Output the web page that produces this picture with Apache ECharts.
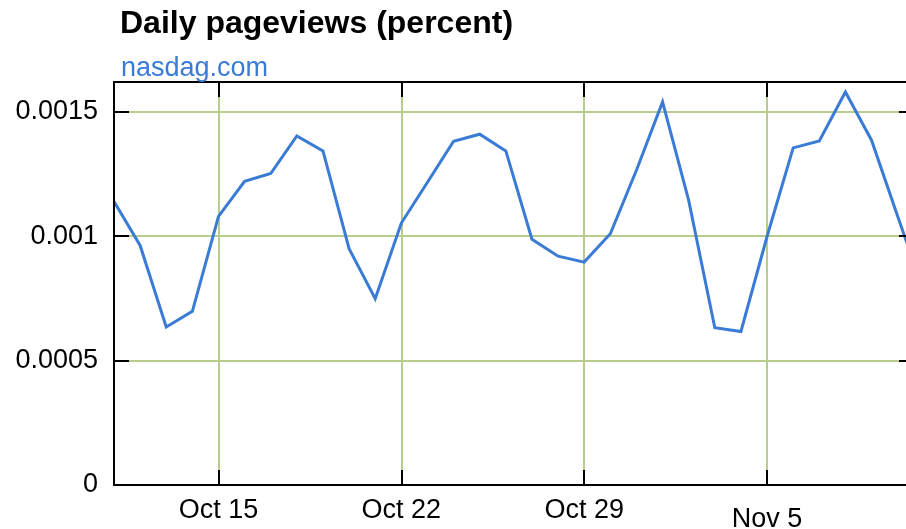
<!DOCTYPE html>
<html>
<head>
<meta charset="utf-8">
<script src="https://cdn.jsdelivr.net/npm/echarts@6/dist/echarts.min.js"></script>
<style>html,body{margin:0;padding:0;background:#fff}#c{width:906px;height:529px}</style>
</head>
<body>
<div id="c"></div>
<script>
const dates = ['2007-10-11','2007-10-12','2007-10-13','2007-10-14','2007-10-15','2007-10-16','2007-10-17','2007-10-18','2007-10-19','2007-10-20','2007-10-21','2007-10-22','2007-10-23','2007-10-24','2007-10-25','2007-10-26','2007-10-27','2007-10-28','2007-10-29','2007-10-30','2007-10-31','2007-11-01','2007-11-02','2007-11-03','2007-11-04','2007-11-05','2007-11-06','2007-11-07','2007-11-08','2007-11-09','2007-11-10','2007-11-11'];
const pageviews = [0.00114,0.000963,0.000635,0.000698,0.00108,0.001221,0.001252,0.001403,0.001343,0.00095,0.000749,0.001053,0.001217,0.001382,0.00141,0.001343,0.000988,0.00092,0.000896,0.00101,0.001265,0.00154,0.001144,0.000632,0.000617,0.000999,0.001355,0.001383,0.00158,0.001386,0.00108,0.00078];
const xTickDates = ['2007-10-15','2007-10-22','2007-10-29','2007-11-05'];
const xTickLabels = ['Oct 15','Oct 22','Oct 29','Nov 5'];
const yTicks = [0, 0.0005, 0.001, 0.0015];
const yTickLabels = ['0','0.0005','0.001','0.0015'];

const ts = s => Date.parse(s);
const xTicks = xTickDates.map(ts);
const xMin = ts('2007-10-11T00:00:00Z');
const xMax = ts('2007-11-10T07:40:00Z');
const seriesData = dates.map((d, i) => [ts(d), pageviews[i]]);

const FONT = 'Liberation Sans';
const BLACK = '#000';
const GRID = '#b8cc8c';
const BLUE = '#3a7bd5';

const chart = echarts.init(document.getElementById('c'), null, {renderer: 'canvas'});

function xAxisBase(extra) {
  return Object.assign({
    type: 'value', min: xMin, max: xMax, gridIndex: 0,
    axisLine: {show: true, onZero: false, lineStyle: {color: BLACK, width: 2}},
    axisTick: {show: true, inside: true, length: 15, customValues: xTicks, lineStyle: {color: BLACK, width: 2}},
    axisLabel: {show: false, customValues: xTicks},
    splitLine: {show: false}
  }, extra);
}
function yAxisBase(extra) {
  return Object.assign({
    type: 'value', min: 0, max: 0.00162, gridIndex: 0,
    axisLine: {show: true, onZero: false, lineStyle: {color: BLACK, width: 2}},
    axisTick: {show: true, inside: true, length: 15, customValues: yTicks, lineStyle: {color: BLACK, width: 2}},
    axisLabel: {show: false, customValues: yTicks},
    splitLine: {show: false}
  }, extra);
}

chart.setOption({
  animation: false,
  backgroundColor: '#fff',
  title: [
    {text: 'Daily pageviews (percent)', left: 115, top: 3,
     textStyle: {fontFamily: FONT, fontSize: 32, fontWeight: 'bold', color: '#000'}},
    {text: 'nasdag.com', left: 116, top: 50,
     textStyle: {fontFamily: FONT, fontSize: 27, fontWeight: 'normal', color: BLUE}}
  ],
  grid: {left: 114, top: 82, right: 0, height: 403, containLabel: false, outerBoundsMode: 'none'},
  xAxis: [
    xAxisBase({position: 'bottom', z: 5,
      axisLabel: {show: true, customValues: xTicks, margin: 12, color: '#000', fontFamily: FONT, fontSize: 27,
        formatter: v => {
          const i = xTicks.indexOf(v);
          const t = i >= 0 ? xTickLabels[i] : '';
          return t === 'Nov 5' ? '{low|' + t + '}' : t;
        },
        rich: {low: {fontFamily: FONT, fontSize: 27, color: '#000', padding: [9, 0, 0, 0]}}
      }}),
    xAxisBase({position: 'top', z: 5}),
    xAxisBase({position: 'bottom', z: 1,
      axisLine: {show: false}, axisTick: {show: false, customValues: xTicks},
      splitLine: {show: true, lineStyle: {color: GRID, width: 2}}})
  ],
  yAxis: [
    yAxisBase({position: 'left', z: 5,
      axisLabel: {show: true, customValues: yTicks, margin: 16, color: '#000', fontFamily: FONT, fontSize: 27,
        formatter: v => {
          const i = yTicks.findIndex(t => Math.abs(t - v) < 1e-12);
          return i >= 0 ? yTickLabels[i] : '';
        }}}),
    yAxisBase({position: 'right', z: 5, axisLine: {show: false},
      axisTick: {show: true, inside: true, length: 7, customValues: yTicks, lineStyle: {color: BLACK, width: 2}}}),
    yAxisBase({position: 'left', z: 1,
      axisLine: {show: false}, axisTick: {show: false, customValues: yTicks},
      splitLine: {show: true, lineStyle: {color: GRID, width: 2}}})
  ],
  series: [{
    type: 'line', xAxisIndex: 0, yAxisIndex: 0,
    data: seriesData, showSymbol: false, symbol: 'none', z: 3,
    lineStyle: {color: BLUE, width: 3, join: 'miter'},
    clip: true
  }]
});
</script>
</body>
</html>
